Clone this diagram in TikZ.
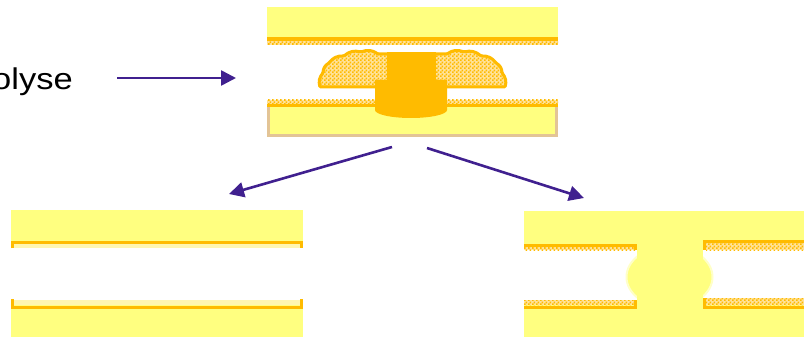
\documentclass[tikz,border=0pt]{standalone}
\usepackage{fontspec}
\setmainfont{Liberation Sans}
\usetikzlibrary{arrows.meta,patterns.meta}

\definecolor{slab}{HTML}{FFFF80}
\definecolor{copper}{HTML}{FFBB00}
\definecolor{prepreg}{HTML}{FFE29A}
\definecolor{paleband}{HTML}{FFF6B0}
\definecolor{edge}{HTML}{E3C496}
\definecolor{arrowc}{HTML}{40208F}
\definecolor{rim}{HTML}{FFFFC8}

% fine checker used for the resin bands
\tikzdeclarepattern{
  name=checker,
  type=uncolored,
  bottom left={(0pt,0pt)},
  top right={(4pt,4pt)},
  tile size={(4pt,4pt)},
  code={
    \fill (0pt,0pt) rectangle (2pt,2pt);
    \fill (2pt,2pt) rectangle (4pt,4pt);
  }
}

\begin{document}
\begin{tikzpicture}[x=1pt,y=1pt,
 flow/.style={draw=arrowc,line width=2.6pt,-{Triangle[length=15pt,width=15pt]}},
 core/.style={fill=slab},
 foil/.style={draw=copper,line width=3pt},
 band/.style={fill=prepreg,postaction={pattern={checker},pattern color=copper}},
 pale/.style={fill=paleband},
 growth/.style={band,draw=copper,line width=3pt,rounded corners=1pt}]
\useasboundingbox (0,0) rectangle (804,-337);

% label and feed arrow
\node[anchor=base east,inner sep=0pt,xscale=1.15,transform shape,
  font=\fontsize{30}{32}\selectfont] (lyse) at (73,-90) {olyse};
\coordinate (feed) at (117,-78);
\coordinate (entry) at (236,-78);
\draw[flow] (feed) -- (entry);

% layered stack with the grown deposit
\fill[core] (267,-7) rectangle (558,-37);
\fill[copper] (267,-37) rectangle (558,-41);
\fill[band] (267,-41) rectangle (558,-45);
\fill[band] (267,-100) rectangle (558,-104);
\fill[copper] (267,-104) rectangle (558,-107);
\fill[edge] (267,-107) rectangle (558,-137);
\fill[core] (270,-107) rectangle (555,-134);
\foreach \m/\b in {1/28,-1/-28}{
  \draw[growth] ({412.5+\m*(412.5-392)},-87) -- ({412.5-\m*(412.5-320)},-87)
    to[bend left=\b] ({412.5-\m*(412.5-323)},-73)
    to[bend left=\b] ({412.5-\m*(412.5-329)},-63)
    to[bend left=\b] ({412.5-\m*(412.5-344)},-56)
    to[bend left=\b] ({412.5-\m*(412.5-361)},-52)
    to[bend left=\b] ({412.5-\m*(412.5-378)},-54)
    -- ({412.5+\m*(412.5-392)},-54) -- cycle;
}
\fill[copper] (387,-52) rectangle (436,-82);
\fill[copper] (375,-80) -- (375,-110)
  arc[start angle=180,end angle=360,x radius=36,y radius=8] -- (447,-80) -- cycle;

% split arrows
\coordinate (forkL) at (392,-147);
\coordinate (leftIn) at (229,-194);
\coordinate (forkR) at (427,-148);
\coordinate (rightIn) at (584,-198);
\draw[flow] (forkL) -- (leftIn);
\draw[flow] (forkR) -- (rightIn);

% left result: clean gap
\fill[core] (11,-210) rectangle (303,-337);
\fill[white] (11,-248) rectangle (303,-300);
\fill[pale] (14,-243) rectangle (300,-248);
\fill[pale] (14,-300) rectangle (300,-305);
\draw[foil] (12.5,-248) |- (301.5,-242) -- (301.5,-248);
\draw[foil] (12.5,-299) |- (301.5,-307) -- (301.5,-299);

% right result: bridged gap
\fill[core] (524,-211) rectangle (804,-337);
\fill[white] (524,-250) rectangle (637,-300);
\fill[white] (703,-250) rectangle (804,-298);
\fill[band] (524,-246) rectangle (636,-250);
\fill[band] (524,-300) rectangle (636,-305);
\fill[band] (706,-243) rectangle (804,-250);
\fill[band] (706,-298) rectangle (804,-305);
\draw[foil] (524,-245) -- (635.5,-245) -- (635.5,-250);
\draw[foil] (524,-307.5) -- (635.5,-307.5) -- (635.5,-300);
\draw[foil] (704.5,-250) |- (804,-241.5);
\draw[foil] (704.5,-298) |- (804,-307.5);
\filldraw[fill=slab,draw=rim,line width=2pt] (669.5,-277) ellipse[x radius=43,y radius=31];
\fill[core] (637,-240) rectangle (703,-312);
\end{tikzpicture}
\end{document}
